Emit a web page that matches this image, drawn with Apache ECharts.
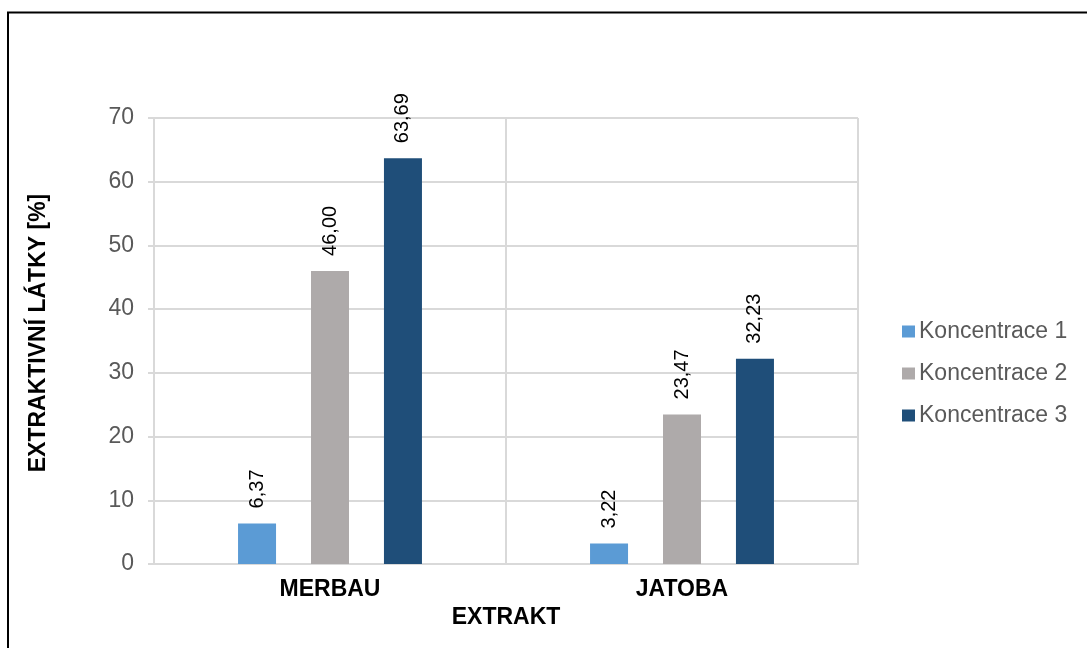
<!DOCTYPE html>
<html>
<head>
<meta charset="utf-8">
<script src="https://cdn.jsdelivr.net/npm/echarts@6/dist/echarts.min.js"></script>
<style>
  html, body { margin: 0; padding: 0; background: #fff; }
  #chart { width: 1087px; height: 648px; }
</style>
</head>
<body>
<div id="chart"></div>
<script>
// Extractive content per extract and concentration
const categories = ['MERBAU', 'JATOBA'];
const seriesNames = ['Koncentrace 1', 'Koncentrace 2', 'Koncentrace 3'];
const konc1 = [6.37, 3.22];
const konc2 = [46.00, 23.47];
const konc3 = [63.69, 32.23];
const colors = ['#5B9BD5', '#AEAAAA', '#1F4E79'];

const FONT = '"Liberation Sans", Arial, sans-serif';
const GRID = '#D9D9D9';

const chart = echarts.init(document.getElementById('chart'), null, { renderer: 'canvas' });

const fmt = p => p.value.toFixed(2).replace('.', ',');

const makeSeries = (name, data, color) => ({
  name: name,
  type: 'bar',
  data: data,
  barWidth: 38,
  barGap: '92%',
  itemStyle: { color: color },
  label: {
    show: true,
    position: 'top',
    rotate: 90,
    align: 'left',
    verticalAlign: 'middle',
    distance: 15,
    formatter: fmt,
    fontFamily: FONT,
    fontSize: 20,
    color: '#000'
  }
});

chart.setOption({
  animation: false,
  backgroundColor: '#fff',
  textStyle: { fontFamily: FONT },
  grid: { left: 154, right: 229, top: 118, bottom: 84, containLabel: false },
  legend: {
    orient: 'vertical',
    left: 897,
    top: 315,
    itemWidth: 13,
    itemHeight: 12,
    itemGap: 19,
    icon: 'rect',
    textStyle: { fontFamily: FONT, fontSize: 23, color: '#595959', padding: [0, 0, 0, -1] },
    data: seriesNames
  },
  xAxis: {
    type: 'category',
    data: categories,
    name: 'EXTRAKT',
    nameLocation: 'middle',
    nameGap: 39,
    nameTextStyle: { fontFamily: FONT, fontSize: 23, fontWeight: 'bold', color: '#000' },
    axisLine: { show: true, lineStyle: { color: GRID, width: 2 } },
    axisTick: { show: false },
    splitLine: { show: true, interval: 0, lineStyle: { color: GRID, width: 2 } },
    axisLabel: { margin: 14, fontFamily: FONT, fontSize: 23, fontWeight: 'bold', color: '#000' }
  },
  yAxis: {
    type: 'value',
    min: 0,
    max: 70,
    interval: 10,
    name: 'EXTRAKTIVNÍ LÁTKY [%]',
    nameLocation: 'middle',
    nameGap: 104,
    nameTextStyle: { fontFamily: FONT, fontSize: 23, fontWeight: 'bold', color: '#000', padding: [0, 0, 0, 16] },
    axisLine: { show: true, lineStyle: { color: GRID, width: 2 } },
    axisTick: { show: true, length: 6, lineStyle: { color: GRID, width: 2 } },
    splitLine: { show: true, lineStyle: { color: GRID, width: 2 } },
    axisLabel: { margin: 20, fontFamily: FONT, fontSize: 23, color: '#595959' }
  },
  series: [
    makeSeries(seriesNames[0], konc1, colors[0]),
    makeSeries(seriesNames[1], konc2, colors[1]),
    makeSeries(seriesNames[2], konc3, colors[2])
  ],
  graphic: [{
    type: 'rect',
    silent: true,
    shape: { x: 8, y: 12.5, width: 1200, height: 800 },
    style: { fill: null, stroke: '#000', lineWidth: 2 }
  }]
});
</script>
</body>
</html>
